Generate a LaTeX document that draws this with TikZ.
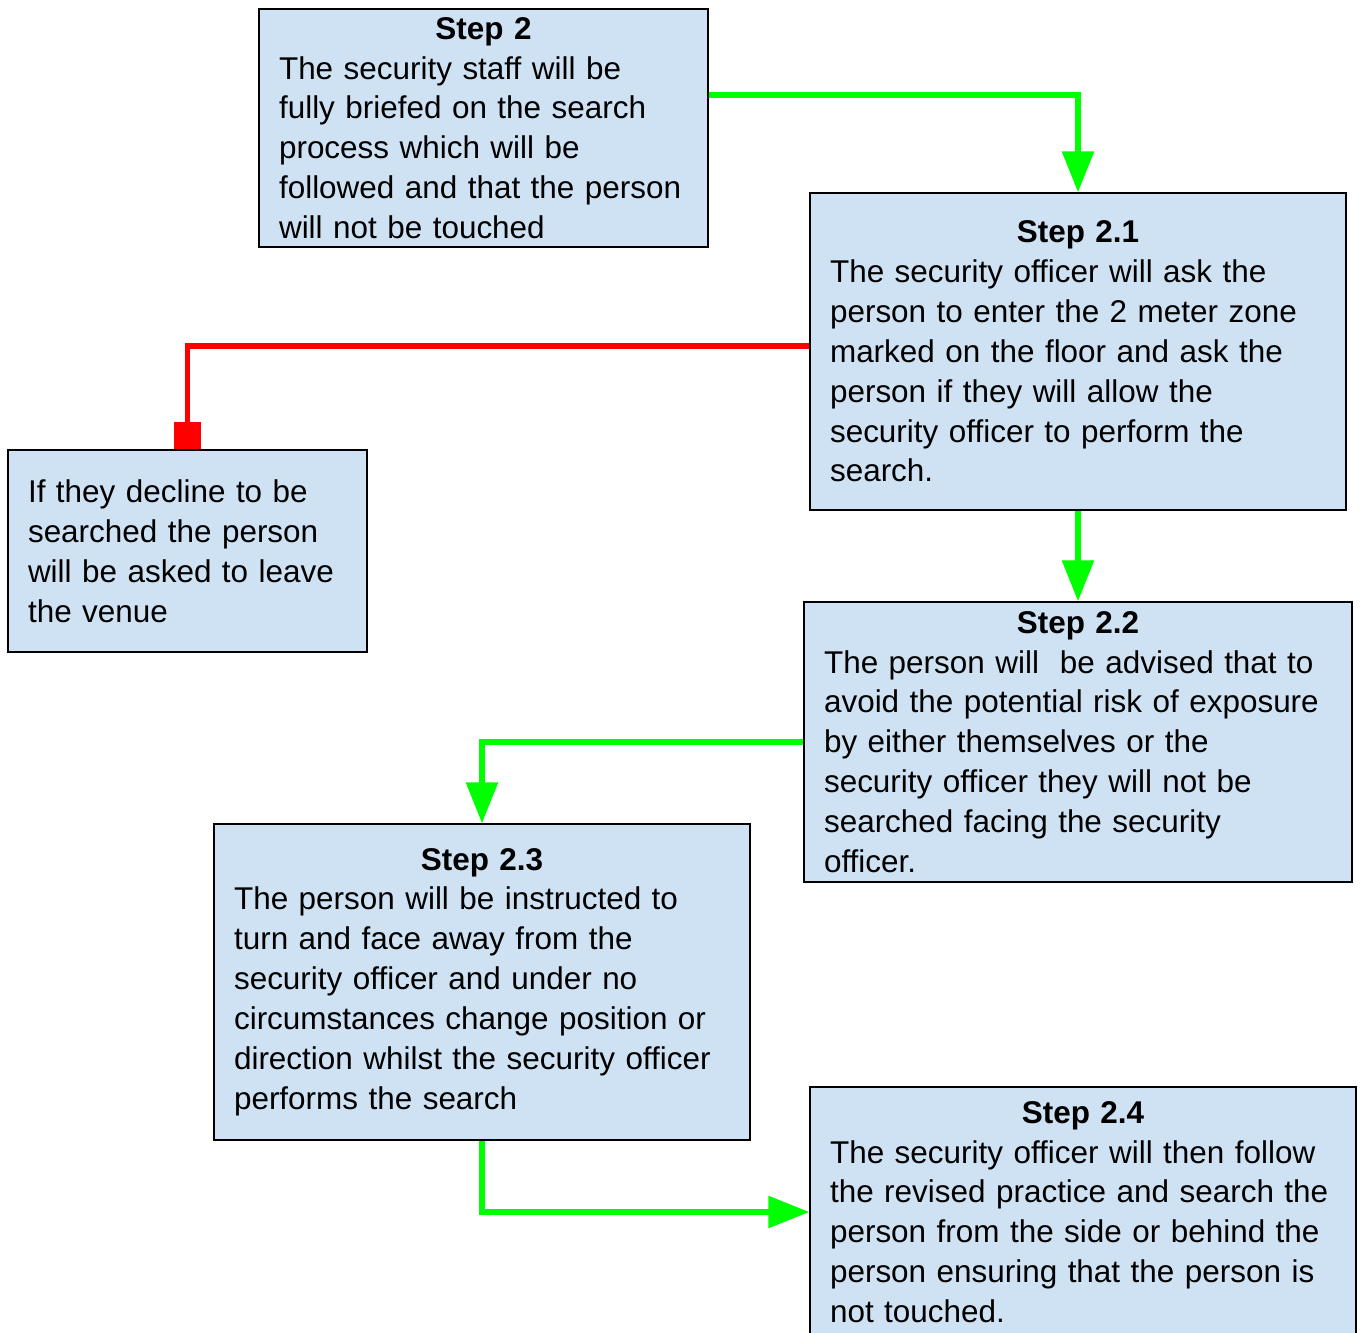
\documentclass[tikz,border=0pt]{standalone}
\usepackage{fontspec}
\setmainfont{Liberation Sans}
\usepackage{xcolor}
\usetikzlibrary{arrows.meta, positioning, calc}

\definecolor{boxblue}{HTML}{CFE2F3}
\definecolor{yesgreen}{HTML}{00FF00}
\definecolor{nored}{HTML}{FF0000}
\hyphenpenalty=10000

\begin{document}
\begin{tikzpicture}[x=0.02cm, y=-0.02cm,
    stepbox/.style={draw=black, line width=0.8pt, fill=boxblue, inner xsep=0.4cm, inner ysep=0pt,
      align=left, font=\fontsize{17.9}{22.7}\selectfont},
    yesflow/.style={yesgreen, line width=3.3pt, -{Triangle[length=0.82cm, width=0.62cm]}},
    noflow/.style={nored, line width=3.3pt, -{Square[length=0.54cm, width=0.56cm]}}]
      \useasboundingbox (0, 0) rectangle (1362, 1332);

      \node[stepbox, text width=8.18cm, minimum height=4.76cm] (s2) at (483.5, 128)
        {{\centering\bfseries Step 2\par}
         The security staff will be\\ fully briefed on the search\\ process which will be\\
         followed and that the person\\ will not be touched};

      \node[stepbox, text width=9.92cm, minimum height=6.34cm] (s21) at (1078, 351.5)
        {{\centering\bfseries Step 2.1\par}
         The security officer will ask the\\ person to enter the 2 meter zone\\
         marked on the floor and ask the\\ person if they will allow the\\
         security officer to perform the\\ search.};

      \node[stepbox, text width=6.38cm, minimum height=4.04cm] (decline) at (187.5, 551)
        {If they decline to be\\ searched the person\\ will be asked to leave\\ the venue};

      \node[stepbox, text width=10.16cm, minimum height=5.6cm] (s22) at (1078, 742)
        {{\centering\bfseries Step 2.2\par}
         The person will \ be advised that to\\ avoid the potential risk of exposure\\
         by either themselves or the\\ security officer they will not be\\
         searched facing the security\\ officer.};

      \node[stepbox, text width=9.92cm, minimum height=6.32cm] (s23) at (482, 982)
        {{\centering\bfseries Step 2.3\par}
         The person will be instructed to\\ turn and face away from the\\
         security officer and under no\\ circumstances change position or\\
         direction whilst the security officer\\ performs the search};

      \node[stepbox, text width=10.12cm, minimum height=5cm] (s24) at (1083, 1212)
        {{\centering\bfseries Step 2.4\par}
         The security officer will then follow\\ the revised practice and search the\\
         person from the side or behind the\\ person ensuring that the person is\\
         not touched.};

      \draw[yesflow] ([yshift=0.66cm]s2.east) -| (s21.north);
      \draw[noflow] ([yshift=0.11cm]s21.west) -| (decline.north);
      \draw[yesflow] (s21.south) -- (s22.north);
      \draw[yesflow] (s22.west) -| (s23.north);
      \draw[yesflow] (s23.south) |- (s24.west);

    \end{tikzpicture}
\end{document}
